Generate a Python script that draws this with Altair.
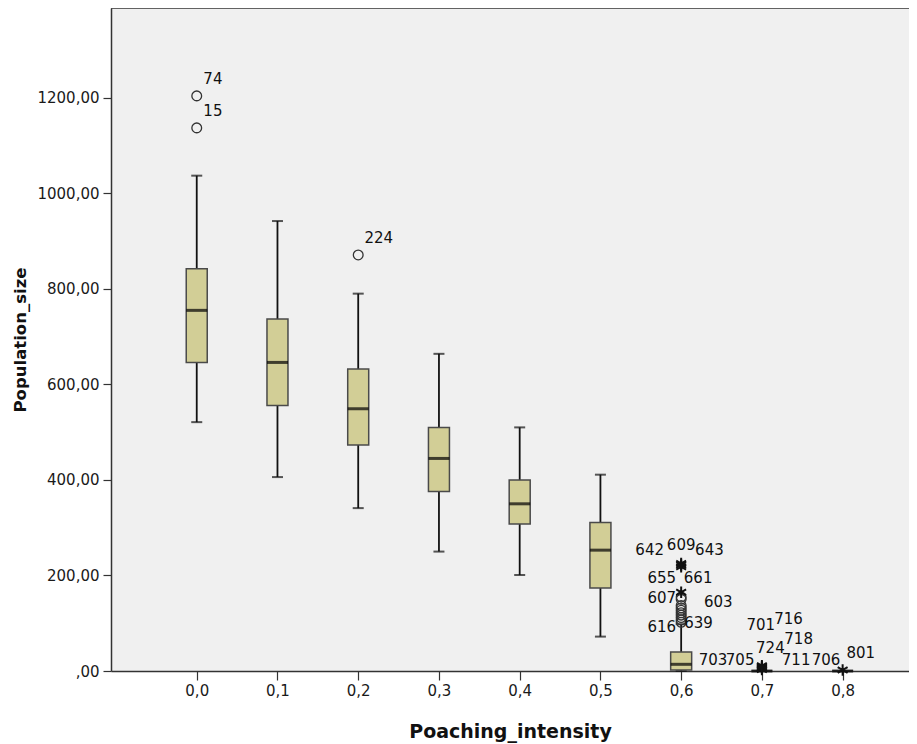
import altair as alt
import pandas as pd

# ---- data ----
categories = [0.0, 0.1, 0.2, 0.3, 0.4, 0.5, 0.6, 0.7, 0.8]
whisker_low = [521, 406, 341, 250, 201, 72, 0, 0, 0]
q1 = [646, 556, 473, 376, 308, 174, 2, 0, 0]
median = [755, 646, 549, 445, 350, 253, 14, 0, 0]
q3 = [842, 737, 632, 510, 400, 311, 40, 0, 0]
whisker_high = [1037, 942, 790, 664, 510, 411, 98, 0, 0]

circle_x = [0.0, 0.0, 0.2, 0.6, 0.6, 0.6, 0.6, 0.6, 0.6, 0.6, 0.6, 0.6, 0.6]
circle_y = [1204, 1137, 871, 102, 107, 112, 117, 122, 127, 132, 137, 150, 155]

star_x = [0.6, 0.6, 0.6, 0.6, 0.7, 0.7, 0.7, 0.7, 0.7, 0.8]
star_y = [165, 218, 222, 225, 3, 5, 7, 9, 11, 2]

label_text = ["74", "15", "224", "642", "609", "643", "655", "661", "607", "603",
              "616", "639", "703", "705", "701", "716", "724", "718", "711", "706", "801"]
label_x = [0.020, 0.020, 0.2255, 0.561, 0.600, 0.635, 0.576, 0.621, 0.576, 0.646,
           0.576, 0.6215, 0.6395, 0.673, 0.6985, 0.733, 0.7105, 0.7455, 0.7424, 0.7794, 0.8225]
label_y = [1240, 1173, 907, 253, 264, 253, 195, 195, 153, 145,
           92, 100, 23, 23, 96, 109, 48, 67, 23, 23, 38]

x_ticks = [0.0, 0.1, 0.2, 0.3, 0.4, 0.5, 0.6, 0.7, 0.8]
y_ticks = [0, 200, 400, 600, 800, 1000, 1200]

boxes = pd.DataFrame({"x": categories, "lo": whisker_low, "q1": q1, "med": median,
                      "q3": q3, "hi": whisker_high})
whisk = boxes[boxes["hi"] > 0]
circles = pd.DataFrame({"x": circle_x, "y": circle_y})
stars = pd.DataFrame({"x": star_x, "y": star_y})
labels = pd.DataFrame({"x": label_x, "y": label_y, "t": label_text})

W, H = 798, 663
FONT = "DejaVu Sans"

xscale = alt.Scale(domain=[-0.1, 0.876], nice=False, zero=False)
yscale = alt.Scale(domain=[0, 1388], nice=False, zero=True)

xaxis = alt.Axis(values=x_ticks, labelExpr="replace(format(datum.value, '.1f'), '.', ',')",
                 title="Poaching_intensity", grid=False, tickSize=9, labelPadding=3,
                 labelFont=FONT, labelFontSize=15, labelColor="#1a1a1a",
                 titleFont=FONT, titleFontSize=19, titleFontWeight="bold", titleColor="#111",
                 titlePadding=24, domainColor="#333", domainWidth=1.5,
                 tickColor="#333", tickWidth=1.2)
yaxis = alt.Axis(values=y_ticks,
                 labelExpr="datum.value == 0 ? ',00' : replace(format(datum.value, '.2f'), '.', ',')",
                 title="Population_size", grid=False, tickSize=8, labelPadding=4,
                 labelFont=FONT, labelFontSize=15, labelColor="#1a1a1a",
                 titleFont=FONT, titleFontSize=16.5, titleFontWeight="bold", titleColor="#111",
                 titlePadding=8, domainColor="#333", domainWidth=1.5,
                 tickColor="#333", tickWidth=1.2)

X = alt.X("x:Q", scale=xscale, axis=xaxis)

whiskers = alt.Chart(whisk).mark_rule(color="#111", strokeWidth=1.8).encode(
    x=X, y=alt.Y("lo:Q", scale=yscale, axis=yaxis), y2="hi:Q")
cap_lo = alt.Chart(whisk).mark_tick(orient="horizontal", size=11, thickness=2, color="#111").encode(
    x=alt.X("x:Q", scale=xscale), y=alt.Y("lo:Q", scale=yscale))
cap_hi = alt.Chart(whisk).mark_tick(orient="horizontal", size=11, thickness=2, color="#111").encode(
    x=alt.X("x:Q", scale=xscale), y=alt.Y("hi:Q", scale=yscale))
box = alt.Chart(boxes).mark_bar(size=21, fill="#D2CE96", stroke="#4a4a4a", strokeWidth=1.5).encode(
    x=alt.X("x:Q", scale=xscale), y=alt.Y("q1:Q", scale=yscale), y2="q3:Q")
med = alt.Chart(boxes).mark_tick(orient="horizontal", size=21, thickness=3, color="#000").encode(
    x=alt.X("x:Q", scale=xscale), y=alt.Y("med:Q", scale=yscale))
circ = alt.Chart(circles).mark_point(shape="circle", size=95, filled=False, stroke="#333",
                                     strokeWidth=1.3, opacity=1).encode(
    x=alt.X("x:Q", scale=xscale), y=alt.Y("y:Q", scale=yscale))
asterisk = "M0,-1L0,1M-0.866,-0.5L0.866,0.5M-0.866,0.5L0.866,-0.5"
star = alt.Chart(stars).mark_point(shape=asterisk, size=130, filled=False, stroke="#111",
                                   strokeWidth=2, opacity=1).encode(
    x=alt.X("x:Q", scale=xscale), y=alt.Y("y:Q", scale=yscale))
text = alt.Chart(labels).mark_text(font=FONT, fontSize=15, color="#111", align="center",
                                   baseline="middle").encode(
    x=alt.X("x:Q", scale=xscale), y=alt.Y("y:Q", scale=yscale), text="t:N")
top = alt.Chart(pd.DataFrame({"a": [0]})).mark_rule(color="#333", strokeWidth=1.5).encode(
    x=alt.value(0), x2=alt.value(W), y=alt.value(0))

chart = alt.layer(whiskers, cap_lo, cap_hi, box, med, circ, star, text, top).properties(
    width=W, height=H,
    autosize=alt.AutoSizeParams(type="none"),
    padding={"left": 103, "top": 0, "right": 0, "bottom": 76},
    background="white",
).configure_view(fill="#F0F0F0", strokeWidth=0)

chart.save("out.html", embed_options={"renderer": "svg", "actions": False})
